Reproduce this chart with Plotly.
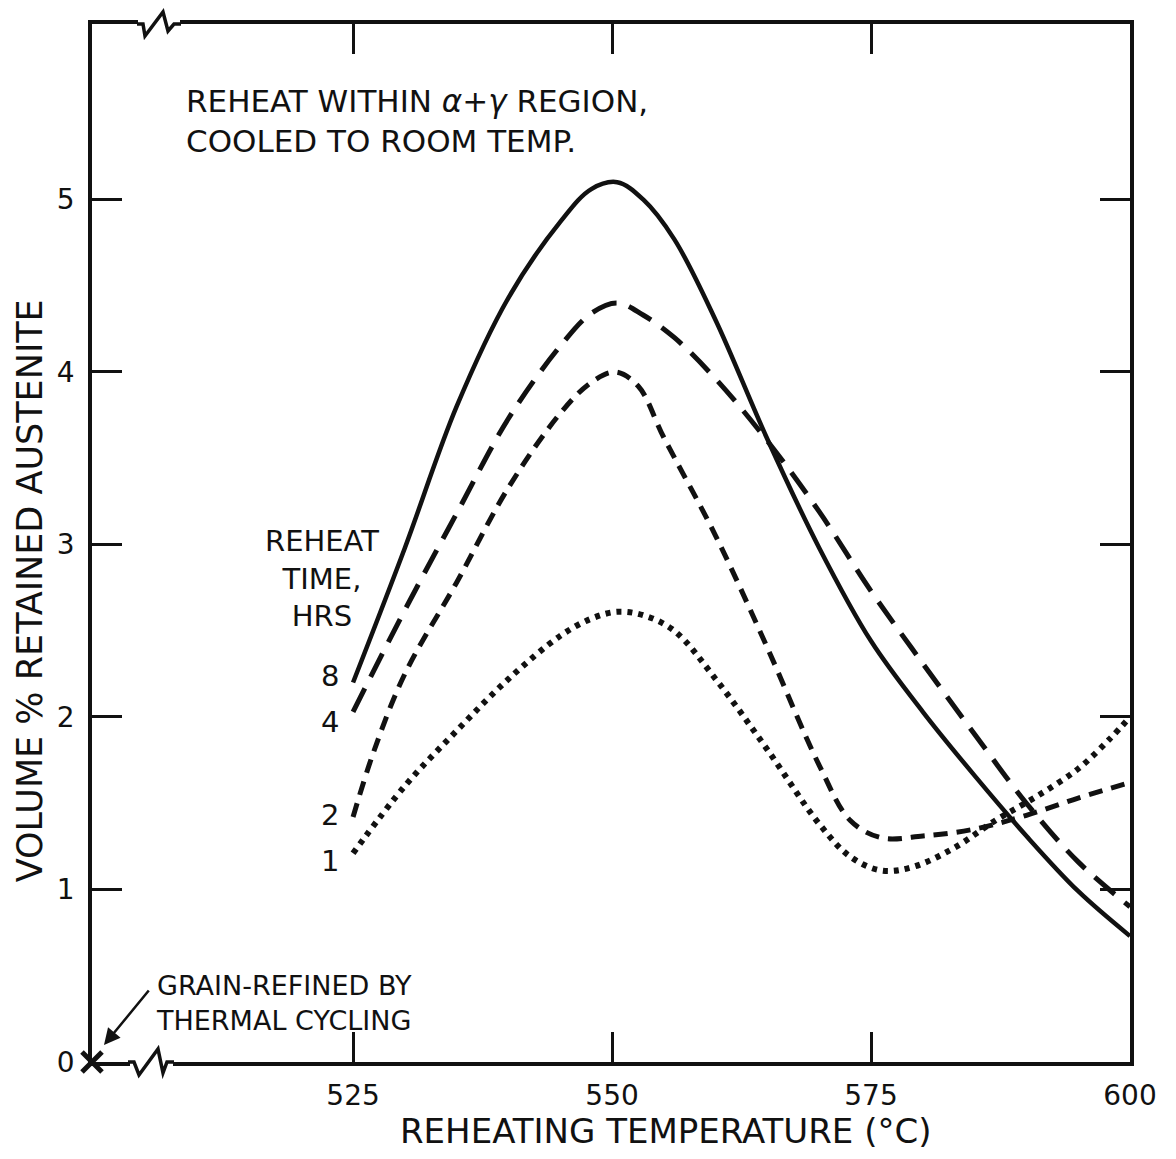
import plotly.graph_objects as go

# ---------------- data ----------------
TICK_TEMPS = [525, 550, 575, 600]
TICK_VOLS = [0, 1, 2, 3, 4, 5]

TEMP_8H = [525, 530, 535, 540, 545, 548, 550.5, 553, 556, 560,
           565, 570, 575, 580, 585, 590, 595, 600]
VOL_8H = [2.20, 2.98, 3.80, 4.43, 4.87, 5.06, 5.10, 5.00, 4.77, 4.30,
          3.61, 2.98, 2.44, 2.03, 1.66, 1.31, 0.99, 0.73]

TEMP_4H = [525, 530, 535, 540, 545, 548, 550.5, 553, 556, 560,
           565, 570, 575, 580, 585, 590, 595, 600]
VOL_4H = [2.03, 2.62, 3.18, 3.73, 4.15, 4.34, 4.40, 4.33, 4.20, 3.96,
          3.60, 3.19, 2.73, 2.31, 1.90, 1.50, 1.16, 0.90]

TEMP_2H = [525, 527, 530, 535, 540, 545, 548, 550.3, 552.5, 555,
           560, 565, 570, 573, 576, 580, 585, 590, 595, 600]
VOL_2H = [1.42, 1.80, 2.25, 2.78, 3.33, 3.76, 3.94, 4.00, 3.92, 3.62,
          3.05, 2.40, 1.72, 1.40, 1.30, 1.31, 1.35, 1.43, 1.53, 1.62]

TEMP_1H = [525, 530, 535, 540, 545, 548, 550.5, 553, 556, 560,
           565, 570, 573, 576, 579, 583, 587, 591, 595, 598, 600]
VOL_1H = [1.21, 1.60, 1.92, 2.22, 2.47, 2.57, 2.61, 2.59, 2.50, 2.22,
          1.81, 1.38, 1.19, 1.11, 1.13, 1.24, 1.40, 1.54, 1.70, 1.87, 2.00]

GRAIN_REFINED_VOL = [0]

SERIES_LABELS = ["8", "4", "2", "1"]

# ---------------- layout helpers ----------------
# page body has an 8px default margin, so the figure is drawn 8px in
OFF = 8
W, H = 1176 - OFF, 1159 - OFF
L, R, T, B = 92, 1130, 21, 1062          # plot frame in screen pixels
X_MIN, X_MAX = 499.8, 600
Y_MIN, Y_MAX = 0, 6.017

def px(x):
    return (x - L) / (R - L)

def py(y):
    return (B - y) / (B - T)

FONT = "DejaVu Sans"
BLACK = "#111111"

fig = go.Figure()

line_styles = [
    (TEMP_8H, VOL_8H, dict(width=4.5, dash="solid")),
    (TEMP_4H, VOL_4H, dict(width=5, dash="26px,13px")),
    (TEMP_2H, VOL_2H, dict(width=5, dash="14px,9px")),
    (TEMP_1H, VOL_1H, dict(width=6, dash="5px,6px")),
]
for xs, ys, st in line_styles:
    fig.add_trace(go.Scatter(
        x=xs, y=ys, mode="lines", showlegend=False, hoverinfo="skip",
        line=dict(color=BLACK, width=st["width"], dash=st["dash"],
                  shape="spline", smoothing=1.0)))

# grain-refined specimen marker at the origin
fig.add_trace(go.Scatter(
    x=[X_MIN], y=GRAIN_REFINED_VOL, mode="markers", showlegend=False,
    cliponaxis=False, hoverinfo="skip",
    marker=dict(symbol="x-thin", size=20, line=dict(width=5, color=BLACK))))

annotations = []

def txt(x, y, s, size=28, xanchor="left", align="left", **kw):
    annotations.append(dict(x=px(x), y=py(y), xref="paper", yref="paper",
                            text=s, showarrow=False, xanchor=xanchor,
                            yanchor="middle", align=align, borderpad=0,
                            font=dict(family=FONT, size=size, color=BLACK), **kw))

txt(185, 118, "REHEAT WITHIN <i>α+γ</i> REGION,<br>COOLED TO ROOM TEMP.", size=31)

txt(322, 577, "REHEAT<br>TIME,<br>HRS", size=29, xanchor="center", align="center")

txt(155, 1003, "GRAIN-REFINED BY<br>THERMAL CYCLING", size=27)

txt(665, 1131, "REHEATING TEMPERATURE (°C)", size=34, xanchor="center")
txt(30, 590, "VOLUME % RETAINED AUSTENITE", size=35, xanchor="center",
    textangle=-90)

# curve labels next to curve starts
label_shift = [6, -10, 2, -8]
for lab, xs, ys, sh in zip(SERIES_LABELS, [TEMP_8H, TEMP_4H, TEMP_2H, TEMP_1H],
                           [VOL_8H, VOL_4H, VOL_2H, VOL_1H], label_shift):
    annotations.append(dict(x=xs[0], y=ys[0], xref="x", yref="y", text=lab,
                            showarrow=False, xanchor="right", yanchor="middle",
                            xshift=-12, yshift=sh,
                            font=dict(family=FONT, size=29, color=BLACK)))

# arrow to the grain-refined marker
annotations.append(dict(x=px(104), y=py(1045), xref="paper", yref="paper",
                        text="", showarrow=True, ax=46, ay=-56,
                        arrowhead=2, arrowsize=1.3, arrowwidth=2.5,
                        arrowcolor=BLACK))

# axis breaks (zig-zags on the top and bottom frame lines)
def path(points):
    return "M " + " L ".join(f"{px(x):.5f},{py(y):.5f}" for x, y in points)

shapes = [
    dict(type="line", xref="paper", yref="paper", x0=px(138), x1=px(180),
         y0=py(T), y1=py(T), line=dict(color="white", width=8)),
    dict(type="path", xref="paper", yref="paper",
         path=path([(137, 21), (143, 21), (145, 33), (163, 9), (168, 28), (174, 21), (181, 21)]),
         line=dict(color=BLACK, width=3.5)),
    dict(type="line", xref="paper", yref="paper", x0=px(130), x1=px(173),
         y0=py(B), y1=py(B), line=dict(color="white", width=8)),
    dict(type="path", xref="paper", yref="paper",
         path=path([(128, 1062), (134, 1062), (139, 1075), (158, 1049), (163, 1073), (167, 1062), (174, 1062)]),
         line=dict(color=BLACK, width=3.5)),
]

axis_common = dict(showline=True, linecolor=BLACK, linewidth=3.5,
                   mirror="ticks", ticks="inside", ticklen=30, tickwidth=3,
                   tickcolor=BLACK, showgrid=False, zeroline=False,
                   tickfont=dict(family=FONT, size=28, color=BLACK))

fig.update_layout(
    width=W, height=H,
    margin=dict(l=L - OFF, r=W - (R - OFF), t=T - OFF, b=H - (B - OFF), pad=0),
    paper_bgcolor="white", plot_bgcolor="white",
    xaxis=dict(range=[X_MIN, X_MAX], tickvals=TICK_TEMPS,
               ticktext=[str(v) for v in TICK_TEMPS], ticklabelstandoff=6,
               **axis_common),
    yaxis=dict(range=[Y_MIN, Y_MAX], tickvals=TICK_VOLS,
               ticktext=[str(v) for v in TICK_VOLS], ticklabelstandoff=8,
               **axis_common),
    annotations=annotations, shapes=shapes, showlegend=False,
)

fig.write_html("out.html")
